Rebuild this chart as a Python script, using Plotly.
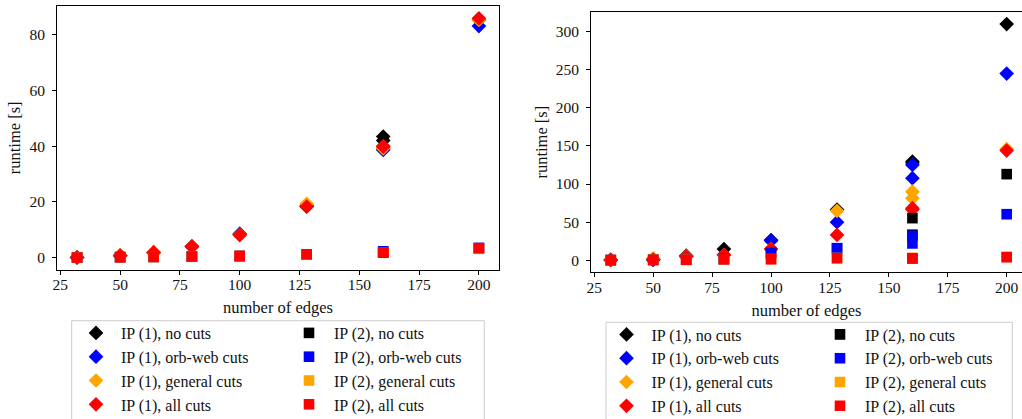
import plotly.graph_objects as go

W, H = 1022, 419

EDGES = [32, 50, 64, 80, 100, 128, 160, 160, 200]

# left panel
L_IP1_NO  = [0.1, 0.8, 1.9, 4.1, 8.3, 18.5, 43.4, 42.0, 85.2]
L_IP1_ORB = [0.1, 0.7, 1.8, 3.9, 8.6, 18.4, 38.6, 39.0, 83.0]
L_IP1_GEN = [0.1, 0.8, 1.9, 4.0, 8.2, 19.3, 39.2, 39.5, 85.2]
L_IP1_ALL = [0.1, 0.7, 1.9, 4.0, 8.1, 18.3, 40.0, 39.8, 85.8]
L_IP2_NO  = [0.05, 0.2, 0.3, 0.4, 0.6, 1.1, 1.9, 1.8, 3.4]
L_IP2_ORB = [0.05, 0.2, 0.3, 0.4, 0.6, 1.1, 2.3, 2.0, 3.5]
L_IP2_GEN = [0.05, 0.2, 0.3, 0.4, 0.6, 1.1, 1.9, 1.8, 3.2]
L_IP2_ALL = [0.05, 0.2, 0.3, 0.4, 0.6, 1.2, 1.9, 1.8, 3.4]

# right panel
R_IP1_NO  = [0.3, 1.0, 6.0, 14.6, 26.5, 66.5, 129.6, 127.5, 310.0]
R_IP1_ORB = [0.3, 0.4, 5.0, 7.0, 25.6, 49.9, 125.0, 107.7, 245.0]
R_IP1_GEN = [0.3, 2.4, 5.0, 6.8, 14.8, 64.8, 90.0, 81.4, 146.0]
R_IP1_ALL = [0.3, 0.8, 4.8, 6.7, 14.6, 33.2, 68.3, 66.5, 144.0]
R_IP2_NO  = [0.1, 0.5, 0.8, 1.5, 9.0, 15.5, 55.2, 33.5, 113.0]
R_IP2_ORB = [0.1, 0.4, 0.7, 1.4, 9.5, 15.8, 32.0, 22.0, 60.4]
R_IP2_GEN = [0.1, 0.5, 0.6, 1.3, 1.5, 2.9, 3.0, 2.5, 4.5]
R_IP2_ALL = [0.1, 0.4, 0.5, 1.3, 1.3, 2.6, 2.6, 2.2, 3.9]

NAMES_IP1 = ["IP (1), no cuts", "IP (1), orb-web cuts", "IP (1), general cuts", "IP (1), all cuts"]
NAMES_IP2 = ["IP (2), no cuts", "IP (2), orb-web cuts", "IP (2), general cuts", "IP (2), all cuts"]
COLORS = ["#000000", "#0000ff", "#ffa500", "#ff0000"]

X_TICKS = [25, 50, 75, 100, 125, 150, 175, 200]
Y_TICKS_L = [0, 20, 40, 60, 80]
Y_TICKS_R = [0, 50, 100, 150, 200, 250, 300]

FONT = "Liberation Serif"
FS_TICK = 15.5
FS_TITLE = 16.5
FS_LEG = 16
TXT = "#111111"

fig = go.Figure()

panels = [
    ("x", "y", [L_IP1_NO, L_IP1_ORB, L_IP1_GEN, L_IP1_ALL],
     [L_IP2_NO, L_IP2_ORB, L_IP2_GEN, L_IP2_ALL], "legend", "legend2"),
    ("x2", "y2", [R_IP1_NO, R_IP1_ORB, R_IP1_GEN, R_IP1_ALL],
     [R_IP2_NO, R_IP2_ORB, R_IP2_GEN, R_IP2_ALL], "legend3", "legend4"),
]
for xa, ya, ip1, ip2, lg1, lg2 in panels:
    for name, col, vals in zip(NAMES_IP1, COLORS, ip1):
        fig.add_trace(go.Scatter(x=EDGES, y=vals, mode="markers", name=name,
                                 marker=dict(symbol="diamond", size=11.3, color=col, line=dict(width=0)),
                                 xaxis=xa, yaxis=ya, legend=lg1, cliponaxis=False))
    for name, col, vals in zip(NAMES_IP2, COLORS, ip2):
        fig.add_trace(go.Scatter(x=EDGES, y=vals, mode="markers", name=name,
                                 marker=dict(symbol="square", size=10.6, color=col, line=dict(width=0)),
                                 xaxis=xa, yaxis=ya, legend=lg2, cliponaxis=False))

def px_x(p):
    return p / W

def px_y(p):
    return 1 - p / H

axis_common = dict(
    showgrid=False, zeroline=False, showline=True, linecolor="black", linewidth=1,
    ticks="outside", ticklen=4, tickwidth=1, tickcolor="black",
    tickfont=dict(family=FONT, size=FS_TICK, color=TXT),
)

fig.update_layout(
    width=W, height=H,
    margin=dict(l=0, r=0, t=0, b=0, autoexpand=False),
    plot_bgcolor="white", paper_bgcolor="white",
    showlegend=True,
    xaxis=dict(domain=[px_x(57), px_x(499)], range=[23.6, 208.4], anchor="y",
               tickvals=X_TICKS, mirror=True, ticklabelstandoff=-3,
               title=dict(text="number of edges", font=dict(family=FONT, size=FS_TITLE, color=TXT), standoff=9),
               **axis_common),
    yaxis=dict(domain=[px_y(269.7), px_y(6)], range=[-4.3, 90.2], anchor="x",
               tickvals=Y_TICKS_L, mirror=True, ticklabelstandoff=4,
               title=dict(text="runtime [s]", font=dict(family=FONT, size=FS_TITLE, color=TXT), standoff=4),
               **axis_common),
    xaxis2=dict(domain=[px_x(591), 1.0], range=[23.6, 206.5], anchor="y2",
                tickvals=X_TICKS, mirror=True, ticklabelstandoff=-3,
                title=dict(text="number of edges", font=dict(family=FONT, size=FS_TITLE, color=TXT), standoff=9),
                **axis_common),
    yaxis2=dict(domain=[px_y(272), px_y(12.3)], range=[-15.5, 325.5], anchor="x2",
                tickvals=Y_TICKS_R, ticklabelstandoff=4,
                title=dict(text="runtime [s]", font=dict(family=FONT, size=FS_TITLE, color=TXT), standoff=3),
                **axis_common),
)

leg_common = dict(orientation="v", xanchor="left", yanchor="top", bgcolor="rgba(0,0,0,0)",
                  borderwidth=0, font=dict(family=FONT, size=FS_LEG, color=TXT), tracegroupgap=0,
                  itemwidth=40)
fig.update_layout(
    legend=dict(x=px_x(71), y=px_y(316), **leg_common),
    legend2=dict(x=px_x(284), y=px_y(316), **leg_common),
    legend3=dict(x=px_x(601.5), y=px_y(317.5), **leg_common),
    legend4=dict(x=px_x(815), y=px_y(317.5), **leg_common),
)

for x0, x1, y0 in [(71.7, 484.3, 320.7), (606, 1012.3, 322.3)]:
    fig.add_shape(type="rect", xref="paper", yref="paper",
                  x0=px_x(x0), x1=px_x(x1), y0=px_y(y0), y1=px_y(440),
                  line=dict(color="#cccccc", width=1), fillcolor="rgba(255,255,255,0.8)", layer="below")

fig.write_html("out.html", config={"displayModeBar": False},
               post_script="document.body.style.margin='0px';document.body.style.overflow='hidden';")
